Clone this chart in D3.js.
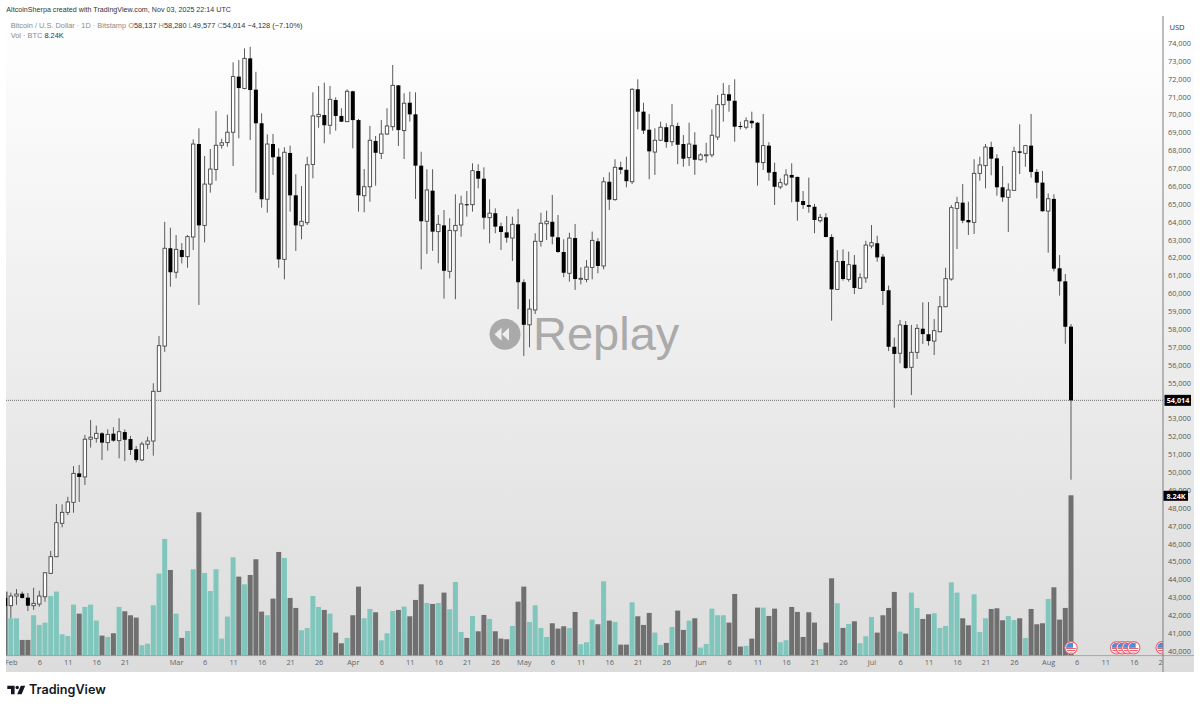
<!DOCTYPE html>
<html><head><meta charset="utf-8">
<script src="https://cdnjs.cloudflare.com/ajax/libs/d3/7.8.5/d3.min.js"></script>
<style>html,body{margin:0;padding:0;background:#fff}svg{display:block}</style>
</head><body><svg id="c" width="1200" height="708"></svg>
<script>
const opens=[42960,
42530,43070,43200,42980,42530,42620,43030,44340,45270,47140,47750,48310,49930,49730,51840,51890,52170,51650,52150,51760,52240,51850,51280,50680,51560,51740,54520,57050,62520,
61180,62420,62050,63150,68350,63800,66110,66930,68280,68430,69010,72120,71460,73140,71390,69510,65260,68350,67640,61900,67850,65480,63780,63950,67210,69880,69970,69400,70810,69920,69600,
71300,69690,65460,65960,68520,67830,68910,69320,71630,69100,70660,70010,67140,64030,65740,63450,63800,61230,63500,63820,64980,64960,66840,66410,64230,64480,63750,63410,63090,63860,
60620,58240,59070,62910,63890,64000,63130,62310,61120,63090,60800,60780,61450,62910,61530,66240,65240,67050,66910,66240,71410,70160,69150,67900,68560,69290,68480,69360,68350,67590,68310,
67470,67740,67740,68740,70550,71130,70770,69360,69290,69650,69540,67310,68260,66790,65950,66110,66620,66510,65160,64940,64840,64060,64250,63150,60220,61810,60780,61600,60280,60860,
62650,62800,62050,60170,57010,56650,58230,55860,56700,58020,57710,57330,57850,59250,60800,64750,65070,64100,63970,66710,67140,68180,67550,65930,65370,65760,67940,67830,68260,66790,66190,
64600,65280,61400,60670,58137];
const highs=[43290,
43260,43460,43310,43240,43530,43370,44400,45590,48220,48200,48620,50340,50400,52080,52910,52600,52240,52390,52510,53010,52390,52020,51460,51700,51980,54970,57610,64000,63670,
63260,62810,63260,68610,69230,67680,68070,70200,68650,69990,72920,73050,73700,73790,72390,70070,68890,68910,68110,68170,68260,66660,66000,67640,71240,71600,71780,71600,70960,70350,71410,
71330,69750,66950,69360,68800,69690,70350,72770,71650,71190,71280,71240,67920,66940,66940,64380,64660,64200,65540,65460,65720,67270,67220,67050,65260,64750,63950,64320,64290,64720,
60780,59670,63360,64510,64620,65500,64380,63020,63390,63880,61450,61860,63450,63080,66490,66770,67500,67360,67640,71470,71970,70660,70030,69230,69600,69510,70590,69540,68850,69540,69010,
67830,68420,70290,71090,71760,71650,71970,69600,69840,70160,69580,70030,68450,67310,66430,66940,67270,66530,65720,66470,65000,64440,64480,63300,62420,62460,62330,62140,61120,62940,
63820,63220,62200,60430,57520,58510,58450,58230,58270,59500,59510,58560,59850,61430,64940,65400,66110,65120,67500,67640,68350,68480,67780,67120,66150,68200,69450,68300,70030,66950,66840,
65590,65540,62140,61080,58280];
const lows=[42290,
41840,42570,42930,42230,42290,42470,42750,44300,45250,46910,47600,47730,48330,49280,51370,51650,50680,51200,51700,50770,50620,50960,50550,50620,51290,50920,54500,56730,60370,
60840,61670,61430,62420,59350,62850,65630,66300,68090,68200,67120,68670,71410,68570,65630,64790,64510,66620,61430,60780,64570,62370,63020,63820,66430,69260,68390,68890,69100,69580,69580,
68110,64570,64530,65120,66020,67510,68860,69100,68240,67510,69600,65280,61340,62200,62370,61680,59700,60840,59670,63170,64290,64570,65870,63580,62800,63360,62420,62830,61810,59110,
56490,56980,58840,62610,62980,62740,62270,60900,60650,60190,60500,60620,60780,61120,61340,64660,65180,66670,65930,66110,69170,68910,66380,66620,68520,68140,68240,67220,67080,67120,66630,
67420,67310,67610,68570,69600,70160,68480,69170,69170,69230,66020,66900,66300,64940,65830,66000,65090,64060,64720,64510,63360,63950,63130,58470,60190,60710,60650,59960,60270,60590,
62520,61770,59350,56770,53600,56090,55770,54310,56330,57170,57070,56550,57820,59230,60710,62480,63920,63260,63320,66300,65870,66600,65460,65120,63430,65740,66670,67080,66470,65310,64570,
62270,61230,59870,57180,49577];
const closes=[42510,
43070,43180,42960,42530,42660,43070,44370,45270,47170,47750,48330,49930,49730,51840,51950,52170,51650,52110,51760,52260,51810,51240,50680,51570,51740,54520,57070,62520,61180,
62460,62030,63170,68350,63800,66110,66950,68280,68420,69010,72120,71480,73140,71370,69510,65260,68350,67610,61900,67890,65480,63800,64030,67190,69920,70010,69400,70850,69920,69600,71300,
69690,65480,65960,68560,67860,68910,69360,71630,69130,70630,70010,67140,64030,65780,63450,63860,61260,63520,63800,65000,64960,66860,66410,64230,64480,63730,63430,63110,63860,60620,
58240,59120,62910,63920,64030,63170,62310,61150,63090,60800,60840,61470,62960,61530,66240,65240,67050,66910,66270,71410,70160,69100,67940,68560,69290,68460,69370,68310,67530,68350,67470,
67740,67750,68840,70550,71130,70770,69320,69300,69650,69510,67310,68260,66750,65960,66190,66620,66470,65120,64940,64840,64100,64250,63150,60220,61770,60800,61600,60300,60870,62700,
62830,62010,60130,57010,56610,58230,55820,56700,58040,57720,57330,57910,59250,60820,64790,65070,64060,63970,66710,67180,68180,67530,65930,65370,65780,67940,67860,68260,66790,66190,64590,
65290,61380,60670,58130,54014];
const volumes=[3289,
1919,1919,805,805,2073,1576,1696,3066,3289,1096,1011,2621,2158,2501,2621,1799,1028,959,1148,2501,2278,2073,1953,531,617,2587,4214,5996,4402,
2158,908,1268,4437,7366,4248,3323,4437,874,2004,5053,4060,3666,4145,4951,2261,2073,2929,5327,5019,2963,2450,1302,1422,3066,2501,2347,2158,1182,634,908,
2073,3546,1919,2398,2227,788,1148,2295,2347,2518,2021,2861,3666,2706,2655,2706,3238,2381,3786,1216,908,2038,1250,2090,1884,1250,874,839,1525,2775,
3546,1730,2587,1422,959,1662,1388,1507,1422,2244,582,685,1850,1610,3820,1799,1730,565,565,2741,2021,1576,2193,1182,548,651,1473,2313,1319,1799,1919,
411,600,2415,2073,2073,1696,3169,463,497,874,2467,2467,2038,2415,685,788,2501,2244,959,2227,1696,343,668,3974,2690,1422,1627,1764,634,994,
1987,1182,2073,2450,3272,1233,1131,3238,2450,1884,2124,2176,1422,1525,3769,3238,1919,1559,3152,1216,1919,2398,2432,1816,2038,1833,1919,908,2398,1610,1662,
2912,3512,1850,2450,8240];
const priceTicks=d3.range(40000,74001,1000);
const timeTicks=["2024-02-01","2024-02-06","2024-02-11","2024-02-16","2024-02-21",
"2024-03-01","2024-03-06","2024-03-11","2024-03-16","2024-03-21","2024-03-26",
"2024-04-01","2024-04-06","2024-04-11","2024-04-16","2024-04-21","2024-04-26",
"2024-05-01","2024-05-06","2024-05-11","2024-05-16","2024-05-21","2024-05-26",
"2024-06-01","2024-06-06","2024-06-11","2024-06-16","2024-06-21","2024-06-26",
"2024-07-01","2024-07-06","2024-07-11","2024-07-16","2024-07-21","2024-07-26",
"2024-08-01","2024-08-06","2024-08-11","2024-08-16","2024-08-21"].map(s=>new Date(s+"T00:00:00Z"));
const eventDays=["2024-08-05","2024-08-13","2024-08-14","2024-08-15","2024-08-16","2024-08-21"].map(s=>new Date(s+"T00:00:00Z"));
const lastPrice=54014, lastVol=8240;

const FONT='"Open Sans","Liberation Sans",sans-serif';
const TFONT='"Liberation Sans",sans-serif';
const svg=d3.select("#c");
const P={l:6,r:1163,t:16,b:672,axisR:1194,base:655.6};
const defs=svg.append("defs");
const g=defs.append("linearGradient").attr("id","bg").attr("x1",0).attr("x2",0).attr("y1",0).attr("y2",1);
g.append("stop").attr("offset",0).attr("stop-color","#ffffff");
g.append("stop").attr("offset",1).attr("stop-color","#dcdcdc");
defs.append("clipPath").attr("id","pane").append("rect").attr("x",P.l).attr("y",P.t).attr("width",P.r-P.l).attr("height",P.b-P.t);

const dates=d3.utcDay.range(new Date(Date.UTC(2024,0,31)),new Date(Date.UTC(2024,7,6)));
const data=dates.map((d,i)=>({d,o:opens[i],h:highs[i],l:lows[i],c:closes[i],v:volumes[i]}));
const x=d3.scaleUtc().domain([new Date(Date.UTC(2024,1,1)),new Date(Date.UTC(2024,7,6))]).range([10.8,1076.7]);
const y=d3.scaleLinear().domain([40000,74000]).range([43+34000*0.01788,43]);
const yv=d3.scaleLinear().domain([0,lastVol]).range([P.base,495.3]);

svg.append("rect").attr("x",P.l).attr("y",P.t).attr("width",P.axisR-P.l).attr("height",P.b-P.t).attr("fill","url(#bg)");

// header text
svg.append("text").attr("x",6.3).attr("y",11.6).attr("font-family",TFONT).attr("font-size",7.1).attr("letter-spacing",0.03).attr("fill","#333")
  .text("AltcoinSherpa created with TradingView.com, Nov 03, 2025 22:14 UTC");
const leg=svg.append("text").attr("x",10.7).attr("y",27.6).attr("font-family",TFONT).attr("font-size",7.4).attr("fill","#8a8a8a");
leg.append("tspan").text("Bitcoin / U.S. Dollar · 1D · Bitstamp  ");
[["O","58,137"],["H","58,280"],["L","49,577"],["C","54,014"]].forEach(([a,b])=>{
  leg.append("tspan").text(" "+a); leg.append("tspan").attr("fill","#333").text(b+" ");
});
leg.append("tspan").attr("fill","#333").text(" −4,128 (−7.10%)");
const leg2=svg.append("text").attr("x",10.7).attr("y",37.6).attr("font-family",TFONT).attr("font-size",7.4).attr("fill","#8a8a8a");
leg2.append("tspan").text("Vol · BTC  ");leg2.append("tspan").attr("fill","#333").text("8.24K");

// watermark
const wm=svg.append("g");
wm.append("circle").attr("cx",505).attr("cy",334.3).attr("r",15.5).attr("fill","#aaaaaa");
[[-7.5],[0]].forEach(([dx])=>wm.append("path")
  .attr("d",d3.line()([[505+dx+0,334.3-6.5],[505+dx-7,334.3],[505+dx+0,334.3+6.5]])+"Z").attr("transform","translate(4,0)").attr("fill","#eeeeee"));
wm.append("text").attr("x",533).attr("y",350).attr("font-family",'"Liberation Sans",sans-serif').attr("font-size",47).attr("fill","#aaaaaa").text("Replay");

const pane=svg.append("g").attr("clip-path","url(#pane)");
// volume
const BW=5;
pane.append("g").selectAll("rect").data(data).join("rect")
  .attr("x",d=>x(d.d)-BW/2).attr("width",BW)
  .attr("y",d=>yv(d.v)).attr("height",d=>yv(0)-yv(d.v))
  .attr("fill",d=>d.c>=d.o?"#80c6bc":"#707070");
// dotted last price
pane.append("line").attr("x1",P.l).attr("x2",P.r).attr("y1",y(lastPrice)).attr("y2",y(lastPrice))
  .attr("stroke","#555").attr("stroke-width",0.8).attr("stroke-dasharray","1 1");
// baseline
svg.append("line").attr("x1",P.l).attr("x2",P.axisR).attr("y1",P.base).attr("y2",P.base).attr("stroke","#8f9a98").attr("stroke-width",0.8);
// wicks
pane.append("g").selectAll("line").data(data).join("line")
  .attr("x1",d=>x(d.d)).attr("x2",d=>x(d.d)).attr("y1",d=>y(d.h)).attr("y2",d=>y(d.l))
  .attr("stroke","#5a5a5a").attr("stroke-width",1);
// bodies
const CW=4;
pane.append("g").selectAll("rect").data(data).join("rect")
  .attr("x",d=>x(d.d)-CW/2+(d.c>=d.o?0.3:0)).attr("width",d=>d.c>=d.o?CW-0.6:CW)
  .attr("y",d=>y(Math.max(d.o,d.c))).attr("height",d=>Math.max(1,Math.abs(y(d.o)-y(d.c))))
  .attr("fill",d=>d.c>=d.o?"#fff":"#000")
  .attr("stroke",d=>d.c>=d.o?"#444":"none").attr("stroke-width",0.9);

// events
const ev=svg.append("g").attr("clip-path","url(#pane)");
eventDays.forEach((d,i)=>{
  const cx=x(d),cy=647.8,id="fl"+i;
  defs.append("clipPath").attr("id",id).append("circle").attr("cx",cx).attr("cy",cy).attr("r",5);
  ev.append("circle").attr("cx",cx).attr("cy",cy).attr("r",6.2).attr("fill","#fff").attr("stroke","#e8616e").attr("stroke-width",1.1);
  const f=ev.append("g").attr("clip-path",`url(#${id})`);
  f.append("rect").attr("x",cx-5).attr("y",cy-5).attr("width",10).attr("height",10).attr("fill","#fff");
  [0.2,2.2,4].forEach(o=>f.append("rect").attr("x",cx-5).attr("y",cy+o).attr("width",10).attr("height",1).attr("fill","#e8616e"));
  f.append("rect").attr("x",cx-5).attr("y",cy-5).attr("width",7).attr("height",5).attr("fill","#4b8fdc");
});

// axes
svg.append("line").attr("x1",P.r).attr("x2",P.r).attr("y1",P.t).attr("y2",P.b).attr("stroke","#7c7c7c").attr("stroke-width",1);
const ya=svg.append("g").attr("transform",`translate(${P.r},0)`)
  .call(d3.axisRight(y).tickValues(priceTicks).tickSize(0).tickPadding(5).tickFormat(d3.format(",")));
ya.select(".domain").remove();
ya.selectAll("text").attr("font-family",FONT).attr("font-size",7.4).attr("fill","#555");
defs.append("clipPath").attr("id","tx").append("rect").attr("x",P.l).attr("y",P.base).attr("width",P.r-P.l).attr("height",P.b-P.base);
const xa=svg.append("g").attr("clip-path","url(#tx)").append("g").attr("transform",`translate(0,${P.base})`)
  .call(d3.axisBottom(x).tickValues(timeTicks).tickSize(0).tickPadding(4.5)
    .tickFormat(d=>d.getUTCDate()===1?d3.utcFormat("%b")(d):d.getUTCDate()));
xa.select(".domain").remove();
xa.selectAll("text").attr("font-family",FONT).attr("font-size",7.4).attr("fill","#666");

// USD box
svg.append("rect").attr("x",1165).attr("y",19).attr("width",26).attr("height",15).attr("rx",2).attr("fill","#fff").attr("fill-opacity",0.75);
svg.append("text").attr("x",1177).attr("y",29.5).attr("text-anchor","middle").attr("font-family",FONT).attr("font-size",7.6).attr("fill","#333").text("USD");

// last value labels
svg.append("rect").attr("x",1164.5).attr("y",y(lastPrice)-5.5).attr("width",26.5).attr("height",11).attr("fill","#000");
svg.append("text").attr("x",1178).attr("y",y(lastPrice)+2.7).attr("text-anchor","middle").attr("font-family",FONT).attr("font-weight",700).attr("font-size",7.2).attr("fill","#fff").text(d3.format(",")(lastPrice));
svg.append("rect").attr("x",1163.5).attr("y",yv(lastVol)-4.5).attr("width",24.5).attr("height",10).attr("fill","#000");
svg.append("text").attr("x",1176).attr("y",yv(lastVol)+3.2).attr("text-anchor","middle").attr("font-family",FONT).attr("font-weight",700).attr("font-size",7.2).attr("fill","#fff").text("8.24K");

// brand
const b=svg.append("g").attr("fill","#131722");
b.append("path").attr("d","M7.3 685.8H14.6V694.3H11V689H7.3Z");
b.append("circle").attr("cx",17.2).attr("cy",687.5).attr("r",1.7);
b.append("path").attr("d","M20.8 685.8H25.2L21.6 694.3H17.2Z");
svg.append("text").attr("x",29).attr("y",694.2).attr("font-family",'Inter,"Liberation Sans",sans-serif').attr("font-weight",600).attr("font-size",12.6).attr("fill","#131722").text("TradingView");
</script></body></html>
